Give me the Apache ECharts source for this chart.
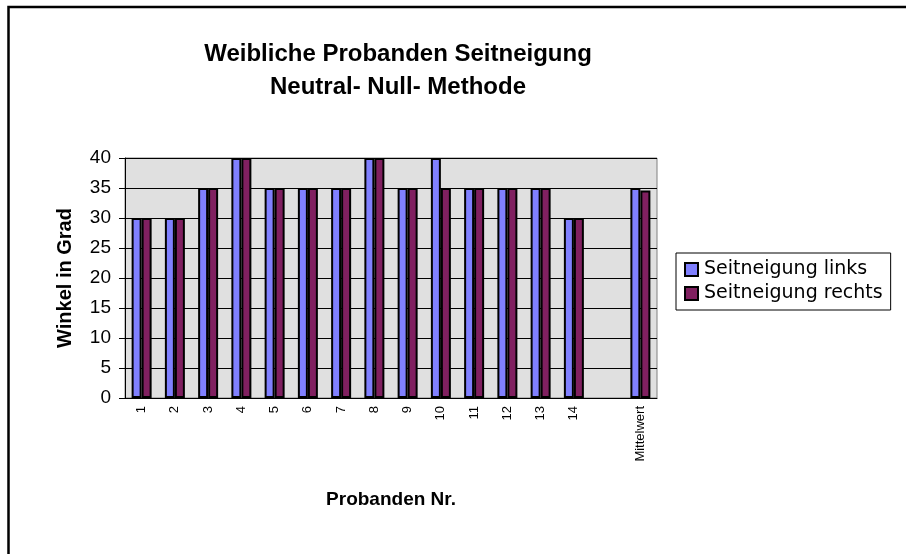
<!DOCTYPE html>
<html>
<head>
<meta charset="utf-8">
<script src="https://cdn.jsdelivr.net/npm/echarts@6/dist/echarts.min.js"></script>
<style>
  html, body { margin: 0; padding: 0; background: #fff; }
  #main { width: 906px; height: 554px; }
</style>
</head>
<body>
<div id="main"></div>
<script>
// Probanden (15. Kategorie ist leer, dann Mittelwert)
const categories = ['1', '2', '3', '4', '5', '6', '7', '8', '9', '10', '11', '12', '13', '14', '', 'Mittelwert'];
const links = [30, 30, 35, 40, 35, 35, 35, 40, 35, 40, 35, 35, 35, 30, null, 35];
const rechts = [30, 30, 35, 40, 35, 35, 35, 40, 35, 35, 35, 35, 35, 30, null, 34.6];
const yTicks = { min: 0, max: 40, step: 5 };

const myChart = echarts.init(document.getElementById('main'));

myChart.setOption({
  backgroundColor: '#fff',
  animation: false,
  // Rahmen oben/links
  graphic: [
    {
      type: 'rect',
      shape: { x: 8.5, y: 7, width: 1200, height: 1200 },
      style: { fill: 'none', stroke: '#000', lineWidth: 2.5 },
      silent: true,
    },
  ],
  title: {
    text: 'Weibliche Probanden Seitneigung\nNeutral- Null- Methode',
    left: 393,
    top: 33,
    textAlign: 'center',
    textStyle: {
      fontFamily: 'Liberation Sans, Arial',
      fontWeight: 'bold',
      fontSize: 24,
      lineHeight: 33,
      color: '#000',
    },
  },
  legend: {
    orient: 'vertical',
    left: 676,
    top: 253,
    padding: [7, 8, 7, 8],
    itemGap: 5,
    itemWidth: 13,
    itemHeight: 13,
    icon: 'rect',
    borderColor: '#000',
    borderWidth: 1,
    backgroundColor: '#fff',
    textStyle: {
      fontFamily: 'DejaVu Sans',
      fontSize: 19,
      color: '#000',
      padding: [0, 0, 0, 1],
    },
    data: ['Seitneigung links', 'Seitneigung rechts'],
  },
  grid: {
    left: 125,
    right: 249,
    top: 158,
    bottom: 156,
    show: true,
    backgroundColor: '#e0e0e0',
    borderColor: '#808080',
    borderWidth: 1,
  },
  xAxis: {
    type: 'category',
    data: categories,
    name: 'Probanden Nr.',
    nameLocation: 'middle',
    nameGap: 92,
    nameTextStyle: {
      fontFamily: 'Liberation Sans, Arial',
      fontWeight: 'bold',
      fontSize: 19,
      color: '#000',
    },
    axisLine: { lineStyle: { color: '#000', width: 1 } },
    axisTick: { length: 5, lineStyle: { color: '#000' } },
    axisLabel: {
      rotate: 90,
      interval: 0,
      margin: 8,
      fontFamily: 'Liberation Sans, Arial',
      fontSize: 13,
      color: '#000',
    },
  },
  yAxis: {
    type: 'value',
    min: yTicks.min,
    max: yTicks.max,
    interval: yTicks.step,
    name: 'Winkel in Grad',
    nameLocation: 'middle',
    nameGap: 50,
    nameRotate: 90,
    nameTextStyle: {
      fontFamily: 'Liberation Sans, Arial',
      fontWeight: 'bold',
      fontSize: 20,
      color: '#000',
    },
    axisLine: { show: true, lineStyle: { color: '#000', width: 1 } },
    axisTick: { show: true, length: 6, lineStyle: { color: '#000' } },
    axisLabel: {
      margin: 14,
      fontFamily: 'Liberation Sans, Arial',
      fontSize: 19,
      color: '#000',
    },
    splitLine: { show: true, lineStyle: { color: '#000', width: 1 } },
  },
  series: [
    {
      name: 'Seitneigung links',
      type: 'bar',
      data: links,
      barWidth: 10,
      barGap: '0%',
      itemStyle: { color: '#8080ff', borderColor: '#000', borderWidth: 2 },
    },
    {
      name: 'Seitneigung rechts',
      type: 'bar',
      data: rechts,
      barWidth: 10,
      barGap: '0%',
      itemStyle: { color: '#802060', borderColor: '#000', borderWidth: 2 },
    },
  ],
});
</script>
</body>
</html>
